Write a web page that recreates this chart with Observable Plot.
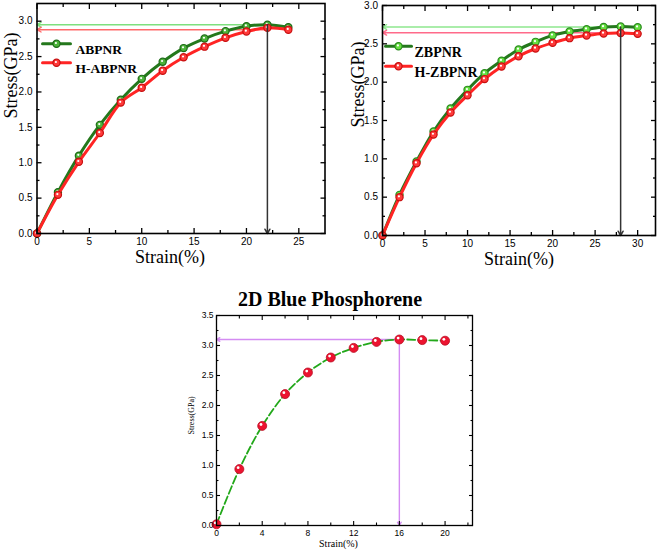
<!DOCTYPE html>
<html><head><meta charset="utf-8">
<script src="https://cdn.jsdelivr.net/npm/d3@7"></script>
<script src="https://cdn.jsdelivr.net/npm/@observablehq/plot@0.6"></script>
<style>
html,body{margin:0;padding:0;background:#fff;}
#root{position:relative;width:661px;height:552px;overflow:hidden;background:#fff;}
#root svg{position:absolute;background:transparent;}
</style></head><body><div id="root"></div>
<script>
// ---------- data ----------
const strainA = [0, 2, 4, 6, 8, 10, 12, 14, 16, 18, 20, 22, 24];
const stressABPNR = [0, 0.584, 1.10, 1.535, 1.89, 2.185, 2.426, 2.62, 2.755, 2.86, 2.93, 2.95, 2.915];
const stressHABPNR = [0, 0.546, 1.013, 1.42, 1.85, 2.06, 2.30, 2.49, 2.64, 2.765, 2.855, 2.906, 2.88];
const peakA = [{x1: 22, x2: 0, yG: 2.95, yR: 2.88}];

const strainB = [0, 2, 4, 6, 8, 10, 12, 14, 16, 18, 20, 22, 24, 26, 28, 30];
const stressZBPNR = [0, 0.53, 0.965, 1.357, 1.657, 1.90, 2.117, 2.28, 2.426, 2.526, 2.61, 2.66, 2.69, 2.72, 2.726, 2.717];
const stressHZBPNR = [0, 0.50, 0.943, 1.317, 1.604, 1.83, 2.04, 2.204, 2.339, 2.439, 2.513, 2.574, 2.609, 2.635, 2.64, 2.63];
const peakB = [{x1: 28, x2: 0, yG: 2.72, yR: 2.645}];

const strainC = [0, 2, 4, 6, 8, 10, 12, 14, 16, 18, 20];
const stressBP = [0.02, 0.94, 1.66, 2.19, 2.55, 2.80, 2.96, 3.06, 3.10, 3.09, 3.08];
const peakC = [{x1: 16, x2: 0, y: 3.10}];

const ticksA = {xMajor: [0, 5, 10, 15, 20, 25], xMinor: [2.5, 7.5, 12.5, 17.5, 22.5],
  yMajor: [0, 0.5, 1.0, 1.5, 2.0, 2.5, 3.0], yMinor: [0.25, 0.75, 1.25, 1.75, 2.25, 2.75]};
const ticksB = {xMajor: [0, 5, 10, 15, 20, 25, 30], xMinor: [2.5, 7.5, 12.5, 17.5, 22.5, 27.5],
  yMajor: [0, 0.5, 1.0, 1.5, 2.0, 2.5, 3.0], yMinor: [0.25, 0.75, 1.25, 1.75, 2.25, 2.75]};
const ticksC = {xMajor: [0, 4, 8, 12, 16, 20], xMinor: [2, 6, 10, 14, 18, 22],
  yMajor: [0, 0.5, 1.0, 1.5, 2.0, 2.5, 3.0, 3.5], yMinor: [0.25, 0.75, 1.25, 1.75, 2.25, 2.75, 3.25]};

const labelsTop = {x: "Strain(%)", y: "Stress(GPa)"};
const legendA = ["ABPNR", "H-ABPNR"];
const legendB = ["ZBPNR", "H-ZBPNR"];
const titleC = "2D Blue Phosphorene";

// ---------- helpers ----------
const SANS = "'Liberation Sans', Arial, sans-serif";
const SERIF = "'Liberation Serif', 'Times New Roman', serif";
const f1 = d3.format(".1f");
const fi = d => String(d);

function axes(t, o) {
  const {major, minor, xGap, yGap, fs, sw} = o;
  return [
    Plot.axisX(t.xMajor, {anchor: "bottom", tickSize: -major, tickPadding: xGap + major, tickFormat: fi, label: null, fontSize: fs, strokeWidth: sw}),
    Plot.axisX(t.xMinor, {anchor: "bottom", tickSize: -minor, text: null, label: null, strokeWidth: sw}),
    Plot.axisX(t.xMajor, {anchor: "top", tickSize: -major, text: null, label: null, strokeWidth: sw}),
    Plot.axisX(t.xMinor, {anchor: "top", tickSize: -minor, text: null, label: null, strokeWidth: sw}),
    Plot.axisY(t.yMajor, {anchor: "left", tickSize: -major, tickPadding: yGap + major, tickFormat: f1, label: null, fontSize: fs, strokeWidth: sw}),
    Plot.axisY(t.yMinor, {anchor: "left", tickSize: -minor, text: null, label: null, strokeWidth: sw}),
    Plot.axisY(t.yMajor, {anchor: "right", tickSize: -major, text: null, label: null, strokeWidth: sw}),
    Plot.axisY(t.yMinor, {anchor: "right", tickSize: -minor, text: null, label: null, strokeWidth: sw})
  ];
}

const hLine = {draw(ctx, l) { ctx.moveTo(0, 0); ctx.lineTo(0, -l); }};

function series(data, key, lineColor, fill, stroke, r) {
  return [
    Plot.line(data, {x: "x", y: key, stroke: lineColor, strokeWidth: 3, curve: "catmull-rom"}),
    Plot.dot(data, {x: "x", y: key, r, fill, stroke, strokeWidth: 1.2}),
    Plot.dot(data, {x: "x", y: key, r: 1.1, fill: "white", dx: -0.6, dy: -0.8})
  ];
}

function legend(names, colors, o) {
  const marks = [];
  names.forEach((n, i) => {
    const dy = o.dy0 + i * o.step;
    const c = colors[i];
    marks.push(Plot.vector([n], {frameAnchor: "top-left", dx: o.lineX, dy, length: o.len, rotate: 90, anchor: "middle", shape: hLine, stroke: c.line, strokeWidth: 3}));
    marks.push(Plot.dot([n], {frameAnchor: "top-left", dx: o.lineX, dy, r: 3.6, fill: c.fill, stroke: c.stroke, strokeWidth: 1.2}));
    marks.push(Plot.dot([n], {frameAnchor: "top-left", dx: o.lineX - 0.6, dy: dy - 0.8, r: 1.1, fill: "white"}));
    marks.push(Plot.text([n], {frameAnchor: "top-left", dx: o.textX, dy: dy + 1, text: d => d, textAnchor: "start", fontFamily: SERIF, fontWeight: "bold", fontSize: o.fs, fill: "black"}));
  });
  return marks;
}

const green = {line: "#24781c", fill: "#4cb33a", stroke: "#1d6a17"};
const green2 = {line: "#24781c", fill: "#66e040", stroke: "#2a8a1e"};
const red = {line: "#ff2424", fill: "#ff3a3a", stroke: "#c80f0f"};

const root = document.getElementById("root");
function place(svg, left, top) { svg.style.left = left + "px"; svg.style.top = top + "px"; root.appendChild(svg); }

// ---------- panel A ----------
const dataA = strainA.map((x, i) => ({x, g: stressABPNR[i], r: stressHABPNR[i]}));
const pA = Plot.plot({
  width: 330, height: 270,
  marginLeft: 36.5, marginRight: 5.5, marginTop: 3, marginBottom: 37,
  x: {domain: [0, 27.5]}, y: {domain: [0, 3.25]},
  style: {fontFamily: SANS, fontSize: "10px", color: "black", background: "transparent"},
  marks: [
    Plot.arrow(peakA, {x1: "x1", x2: "x2", y1: "yG", y2: "yG", stroke: "#7ee07e", strokeWidth: 1.4, headLength: 5}),
    Plot.arrow(peakA, {x1: "x1", x2: "x2", y1: "yR", y2: "yR", stroke: "#ff6a6a", strokeWidth: 1.4, headLength: 5}),
    ...series(dataA, "g", green.line, green.fill, green.stroke, 3.6),
    ...series(dataA, "r", red.line, red.fill, red.stroke, 3.6),
    Plot.arrow(peakA, {x1: "x1", x2: "x1", y1: "yG", y2: () => 0, stroke: "#333", strokeWidth: 1.5, headLength: 5}),
    ...axes(ticksA, {major: 5, minor: 3, xGap: 4.5, yGap: 4.5, fs: 10, sw: 1.3}),
    Plot.frame({stroke: "black", strokeWidth: 1.6}),
    ...legend(legendA, [green, red], {lineX: 19.5, len: 28, textX: 38.5, dy0: 40.3, step: 19, fs: 13.5}),
    Plot.text([labelsTop.x], {frameAnchor: "bottom", dx: -11, dy: 29.5, text: d => d, fontFamily: SERIF, fontSize: 18, fill: "black"}),
    Plot.text([labelsTop.y], {frameAnchor: "left", dx: -25.5, dy: 0, rotate: -90, text: d => d, fontFamily: SERIF, fontSize: 18, fill: "black"})
  ]
});
place(pA, 0, 0);

// ---------- panel B ----------
const dataB = strainB.map((x, i) => ({x, g: stressZBPNR[i], r: stressHZBPNR[i]}));
const pB = Plot.plot({
  width: 331, height: 270,
  marginLeft: 52, marginRight: 6, marginTop: 5, marginBottom: 35,
  x: {domain: [0, 32.1]}, y: {domain: [0, 3.0]},
  style: {fontFamily: SANS, fontSize: "10px", color: "black", background: "transparent"},
  marks: [
    Plot.arrow(peakB, {x1: "x1", x2: "x2", y1: "yG", y2: "yG", stroke: "#8ee88e", strokeWidth: 1.4, headLength: 5}),
    Plot.arrow(peakB, {x1: "x1", x2: "x2", y1: "yR", y2: "yR", stroke: "#ff6a8a", strokeWidth: 1.4, headLength: 5}),
    ...series(dataB, "g", green2.line, green2.fill, green2.stroke, 3.6),
    ...series(dataB, "r", red.line, red.fill, red.stroke, 3.6),
    Plot.arrow(peakB, {x1: "x1", x2: "x1", y1: "yG", y2: () => 0, stroke: "#333", strokeWidth: 1.5, headLength: 5}),
    ...axes(ticksB, {major: 5, minor: 3, xGap: 4.5, yGap: 4.5, fs: 10, sw: 1.3}),
    Plot.frame({stroke: "black", strokeWidth: 1.6}),
    ...legend(legendB, [green2, red], {lineX: 16, len: 26, textX: 32, dy0: 40.7, step: 20, fs: 14}),
    Plot.text([labelsTop.x], {frameAnchor: "bottom", dx: 0, dy: 29, text: d => d, fontFamily: SERIF, fontSize: 18, fill: "black"}),
    Plot.text([labelsTop.y], {frameAnchor: "left", dx: -24, dy: 7, rotate: -90, text: d => d, fontFamily: SERIF, fontSize: 18, fill: "black"})
  ]
});
place(pB, 330, 0);

// ---------- panel C ----------
const dataC = strainC.map((x, i) => ({x, y: stressBP[i]}));
const pC = Plot.plot({
  width: 320, height: 272,
  marginLeft: 46, marginRight: 18, marginTop: 35, marginBottom: 27,
  x: {domain: [0, 22.4]}, y: {domain: [0, 3.5]},
  style: {fontFamily: SANS, fontSize: "8.5px", color: "black", background: "transparent"},
  marks: [
    Plot.arrow(peakC, {x1: "x1", x2: "x2", y1: "y", y2: "y", stroke: "#d48cf2", strokeWidth: 1.4, headLength: 4}),
    Plot.arrow(peakC, {x1: "x1", x2: "x1", y1: "y", y2: () => 0, stroke: "#d48cf2", strokeWidth: 1.4, headLength: 4}),
    Plot.line(dataC, {x: "x", y: "y", stroke: "#22a81a", strokeWidth: 1.8, strokeDasharray: "8,3", curve: "catmull-rom"}),
    Plot.dot(dataC, {x: "x", y: "y", r: 4.5, fill: "#ec1430", stroke: "#b80c22", strokeWidth: 0.8}),
    Plot.dot(dataC, {x: "x", y: "y", r: 1.4, fill: "white", dx: -1.2, dy: -1.4}),
    ...axes(ticksC, {major: 4, minor: 2.5, xGap: 4, yGap: 3, fs: 8.5, sw: 1.1}),
    Plot.frame({stroke: "black", strokeWidth: 1.3}),
    Plot.text([titleC], {frameAnchor: "top", dx: -14.5, dy: -24, text: d => d, fontFamily: SERIF, fontWeight: "bold", fontSize: 20, fill: "black"}),
    Plot.text([labelsTop.x], {frameAnchor: "bottom", dx: -6, dy: 21.5, text: d => d, fontFamily: SERIF, fontSize: 10, fill: "black"}),
    Plot.text([labelsTop.y], {frameAnchor: "left", dx: -25.3, dy: 14, rotate: -90, text: d => d, fontFamily: SERIF, fontSize: 8, fill: "black"})
  ]
});
place(pC, 170, 280);
</script></body></html>
